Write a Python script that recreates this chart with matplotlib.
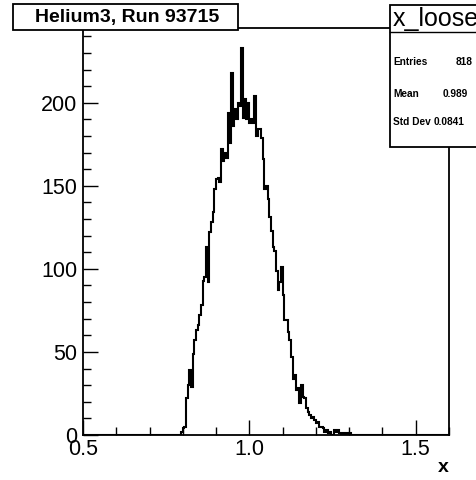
import numpy as np
import matplotlib.pyplot as plt
from matplotlib.patches import Rectangle
from matplotlib.ticker import MultipleLocator

# histogram x_loose, bins of 0.005 from 0.5 to 1.6
x_lo = 0.5
x_hi = 1.6
bin_w = 0.005
first_bin = 0.795
counts_nonzero = [2, 4, 5, 22, 30, 39, 29, 49, 57, 63,
                  66, 72, 78, 93, 95, 113, 92, 122, 128, 134,
                  148, 154, 155, 152, 172, 165, 170, 167, 194, 176,
                  218, 186, 196, 190, 200, 198, 233, 191, 202, 190,
                  200, 188, 190, 188, 204, 180, 184, 184, 179, 166,
                  148, 150, 142, 131, 123, 113, 111, 99, 87, 92,
                  101, 84, 69, 69, 62, 57, 47, 34, 36, 27,
                  28, 19, 30, 23, 22, 16, 14, 12, 10, 11,
                  9, 7, 8, 5, 5, 4, 2, 3, 1, 2,
                  0, 0, 3, 2, 3, 1, 0, 1, 0, 1,
                  0, 1]

title_text = "Helium3, Run 93715"
stats_name = "x_loose"
stats_labels = ["Entries", "Mean", "Std Dev"]
stats_values = ["818", "0.989", "0.0841"]
xlabel = "x"

n_bins = int(round((x_hi - x_lo) / bin_w))
edges = np.linspace(x_lo, x_hi, n_bins + 1)
counts = np.zeros(n_bins)
i0 = int(round((first_bin - x_lo) / bin_w))
counts[i0:i0 + len(counts_nonzero)] = counts_nonzero

W, H = 476, 480
fig = plt.figure(figsize=(W / 100, H / 100), dpi=100)
plt.rcParams['font.family'] = ['Liberation Sans', 'DejaVu Sans']

def fx(px):
    return px / W

def fy(py):
    return 1 - py / H

ax = fig.add_axes([fx(83), fy(435), fx(449) - fx(83), fy(28) - fy(435)])
ax.stairs(counts, edges, color='black', lw=1.5)
ax.set_xlim(x_lo, x_hi)
ax.set_ylim(0, 245)

ax.xaxis.set_major_locator(MultipleLocator(0.5))
ax.xaxis.set_minor_locator(MultipleLocator(0.1))
ax.yaxis.set_major_locator(MultipleLocator(50))
ax.yaxis.set_minor_locator(MultipleLocator(10))
ax.xaxis.set_major_formatter(lambda v, p: f"{v:.1f}")
ax.tick_params(which='both', direction='in', top=False, right=False, width=1)
ax.tick_params(which='major', length=11, labelsize=15.5)
ax.tick_params(which='minor', length=6)
ax.tick_params(axis='x', pad=3)
ax.tick_params(axis='y', pad=4)
for s in ax.spines.values():
    s.set_linewidth(1.3)

fig.text(fx(443), fy(468), xlabel, fontsize=14, fontweight='bold',
         ha='center', va='center')

# title box
fig.patches.append(Rectangle((fx(13), fy(30)), fx(238) - fx(13), fy(4) - fy(30),
                             transform=fig.transFigure, facecolor='white',
                             edgecolor='black', lw=1.3, zorder=5))
fig.text(fx(127), fy(17.5), title_text, fontsize=14, fontweight='bold',
         ha='center', va='center', zorder=6)

# stats box
box_top, box_sep, box_bot = 5, 32, 147
fig.patches.append(Rectangle((fx(390), fy(box_bot)), fx(100), fy(box_top) - fy(box_bot),
                             transform=fig.transFigure, facecolor='white',
                             edgecolor='black', lw=1.3, zorder=5))
fig.lines.append(plt.Line2D([fx(390), fx(476)], [fy(box_sep), fy(box_sep)],
                            transform=fig.transFigure, color='black', lw=1.0, zorder=6))
fig.text(fx(393), fy(19), stats_name, fontsize=18, ha='left', va='center', zorder=6)
row_y = [62, 94, 122]
val_x = [456, 443, 434]
for lab, val, yy, vx in zip(stats_labels, stats_values, row_y, val_x):
    fig.text(fx(393), fy(yy), lab, fontsize=7.3, fontweight='bold',
             ha='left', va='center', zorder=6)
    fig.text(fx(vx), fy(yy), val, fontsize=7.3, fontweight='bold',
             ha='left', va='center', zorder=6)

fig.savefig("out.png", dpi=100)
